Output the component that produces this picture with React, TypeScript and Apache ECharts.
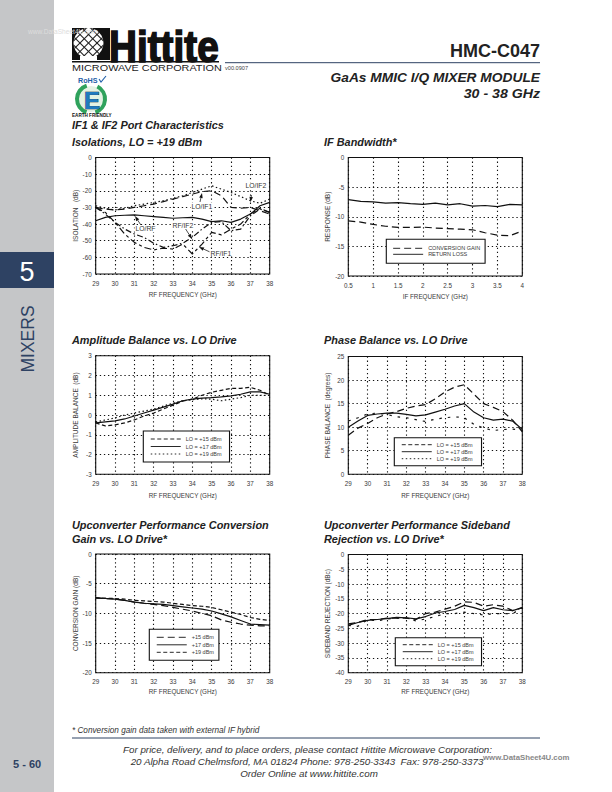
import React, { useEffect, useRef } from "react";
import * as echarts from "echarts";

// ---------- data ----------
const rfGHz = [29, 29.5, 30, 30.5, 31, 31.5, 32, 32.5, 33, 33.5, 34, 34.5, 35, 35.5, 36, 36.5, 37, 37.5, 38];
const ifGHz = [0.5, 0.75, 1, 1.25, 1.5, 1.75, 2, 2.25, 2.5, 2.75, 3, 3.25, 3.5, 3.75, 4];

const isoLoIf2 = [-29, -30.5, -31.5, -30.5, -29, -28, -27, -26, -24.5, -23, -21, -19, -17, -19, -21, -23.5, -26, -27.5, -25];
const isoLoIf1 = [-30, -31, -31.5, -31, -30, -29, -28, -26.5, -25, -23.5, -22, -20.5, -20, -23, -30, -30.5, -30, -32, -34];
const isoLoRf = [-38, -36, -35, -34.7, -34.5, -35, -35.5, -36, -36.5, -36.2, -36, -37, -38.5, -38, -39, -37, -34, -29, -27];
const isoRfIf2 = [-30, -34, -39, -43, -46, -48, -51.5, -54, -53, -51.5, -48, -43, -39, -38.5, -44, -43, -35, -31, -33];
const isoRfIf1 = [-30, -33, -39, -46, -51, -54, -55.5, -54.5, -55, -52, -58, -52, -45, -46.5, -43, -40, -34, -30.5, -33];

const bwConvGain = [-10.7, -10.9, -11.3, -11.6, -11.8, -11.8, -11.75, -11.9, -12, -12.1, -12.2, -12.7, -13.1, -13.2, -12.4];
const bwReturnLoss = [-7.1, -7.4, -7.5, -7.7, -7.6, -7.8, -7.9, -7.7, -8, -7.8, -8.2, -8.1, -8.3, -7.9, -8];

const ampLo15 = [-0.4, -0.55, -0.5, -0.4, -0.25, -0.05, 0.1, 0.3, 0.5, 0.7, 0.8, 1, 1.15, 1.25, 1.35, 1.35, 1.4, 1.25, 1];
const ampLo17 = [-0.4, -0.35, -0.3, -0.2, -0.05, 0.1, 0.25, 0.4, 0.55, 0.72, 0.8, 0.85, 0.88, 0.92, 0.97, 1.05, 1.17, 1.17, 1.05];
const ampLo19 = [-0.35, -0.25, -0.15, 0, 0.1, 0.2, 0.3, 0.45, 0.6, 0.72, 0.78, 0.82, 0.8, 0.72, 0.8, 0.88, 1, 1, 1];

const phaseLo15 = [8.3, 9.8, 10.8, 12, 12.8, 13.3, 14, 14.5, 14.8, 16, 17.5, 18.5, 19, 17, 15, 14.2, 13.3, 11.5, 9];
const phaseLo17 = [10, 11.3, 12.5, 12.8, 13, 13, 12.7, 12.4, 12.6, 13.2, 13.8, 14.5, 15, 13.2, 12, 11.5, 11.7, 11.3, 9.5];
const phaseLo19 = [11.3, 12, 12.8, 13, 12.7, 12.2, 12, 11.6, 11.2, 11.7, 12, 12.2, 12, 10.6, 9.8, 9.3, 9.5, 9.6, 9.3];

const gainLo15 = [-7.4, -7.5, -7.6, -7.8, -8.1, -8.3, -8.5, -8.7, -9, -9.3, -9.6, -10, -10.4, -11.1, -11.5, -11.8, -12, -12.1, -12.1];
const gainLo17 = [-7.4, -7.5, -7.6, -7.8, -8.1, -8.3, -8.4, -8.5, -8.7, -8.9, -9.1, -9.3, -9.6, -10.1, -10.6, -11.2, -11.8, -11.9, -12];
const gainLo19 = [-7.4, -7.45, -7.5, -7.6, -7.8, -7.9, -8, -8.1, -8.3, -8.5, -8.7, -8.8, -9, -9.4, -9.8, -10.2, -10.7, -11, -11.2];

const sbLo15 = [-23.5, -23, -22, -22, -21.5, -21.5, -21.5, -22, -20, -19.5, -18.5, -17.5, -16, -16.2, -17.5, -17, -17.5, -19, -18];
const sbLo17 = [-24, -23, -22.3, -22, -21.7, -21.3, -21.4, -21.8, -21, -19.8, -19.3, -18.6, -17.2, -18, -19, -18, -18.7, -19, -18];
const sbLo19 = [-24, -24.3, -22, -22.5, -21.8, -21.5, -21.5, -22.5, -21.8, -21, -20, -20, -19.5, -20, -20.5, -20, -20, -20, -18];

const FONT = "'Liberation Sans', Arial, sans-serif";
const NAVY = "#2e4263";
const INK = "#3a3a3a";

const solid = "solid";
const longDash = [7, 4];
const dash = [4, 2.5];
const dashDot = [6, 2.5, 1.5, 2.5];
const dotted = [1.5, 2.5];

const pairs = (xs: number[], ys: number[]) => xs.map((x, i) => [x, ys[i]]);

const panels = [
  { left: 95.7, top: 157.5, bottom: 274, nameGap: 17, xMin: 29, xMax: 38, xInt: 1, yMin: -70, yMax: 0, yInt: 10, yName: "ISOLATION   (dB)", xName: "RF FREQUENCY (GHz)" },
  { left: 348.3, top: 157.5, bottom: 276, nameGap: 17, xMin: 0.5, xMax: 4, xInt: 0.5, yMin: -20, yMax: 0, yInt: 5, yName: "RESPONSE (dB)", xName: "IF FREQUENCY (GHz)" },
  { left: 95.7, top: 355.7, bottom: 474.3, nameGap: 17.7, xMin: 29, xMax: 38, xInt: 1, yMin: -3, yMax: 3, yInt: 1, yName: "AMPLITUDE BALANCE  (dB)", xName: "RF FREQUENCY (GHz)" },
  { left: 348.3, top: 356.5, bottom: 474.3, nameGap: 17.7, xMin: 29, xMax: 38, xInt: 1, yMin: 0, yMax: 25, yInt: 5, yName: "PHASE BALANCE  (degrees)", xName: "RF FREQUENCY (GHz)" },
  { left: 95.7, top: 554, bottom: 672.7, nameGap: 16, xMin: 29, xMax: 38, xInt: 1, yMin: -20, yMax: 0, yInt: 5, yName: "CONVERSION GAIN (dB)", xName: "RF FREQUENCY (GHz)" },
  { left: 348.3, top: 554.5, bottom: 672.7, nameGap: 16, xMin: 29, xMax: 38, xInt: 1, yMin: -40, yMax: 0, yInt: 5, yName: "SIDEBAND REJECTION (dBc)", xName: "RF FREQUENCY (GHz)" },
];
const PLOT_W = 174;

const seriesDefs: [number, string, number[], number[], any][] = [
  [0, "LO/IF2", rfGHz, isoLoIf2, dotted],
  [0, "LO/IF1", rfGHz, isoLoIf1, longDash],
  [0, "LO/RF", rfGHz, isoLoRf, solid],
  [0, "RF/IF2", rfGHz, isoRfIf2, dashDot],
  [0, "RF/IF1", rfGHz, isoRfIf1, [7, 3, 3, 3]],
  [1, "CONVERSION GAIN", ifGHz, bwConvGain, longDash],
  [1, "RETURN LOSS", ifGHz, bwReturnLoss, solid],
  [2, "LO = +15 dBm", rfGHz, ampLo15, dash],
  [2, "LO = +17 dBm", rfGHz, ampLo17, solid],
  [2, "LO = +19 dBm", rfGHz, ampLo19, dotted],
  [3, "LO = +15 dBm", rfGHz, phaseLo15, longDash],
  [3, "LO = +17 dBm", rfGHz, phaseLo17, solid],
  [3, "LO = +19 dBm", rfGHz, phaseLo19, [2.5, 6]],
  [4, "+15 dBm", rfGHz, gainLo15, longDash],
  [4, "+17 dBm", rfGHz, gainLo17, solid],
  [4, "+19 dBm", rfGHz, gainLo19, dash],
  [5, "LO = +15 dBm", rfGHz, sbLo15, longDash],
  [5, "LO = +17 dBm", rfGHz, sbLo17, solid],
  [5, "LO = +19 dBm", rfGHz, sbLo19, [2.5, 6]],
];

const legendDefs: { names: string[]; left: number; top: number; pad: number[]; gap: number }[] = [
  { names: ["CONVERSION GAIN", "RETURN LOSS"], left: 386.3, top: 239.3, pad: [6, 5, 6, 6.4], gap: 0 },
  { names: ["LO = +15 dBm", "LO = +17 dBm", "LO = +19 dBm"], left: 143.3, top: 431, pad: [5, 8, 5, 7], gap: 1.5 },
  { names: ["LO = +15 dBm", "LO = +17 dBm", "LO = +19 dBm"], left: 394.3, top: 437.7, pad: [4, 9, 4, 7], gap: 1 },
  { names: ["+15 dBm", "+17 dBm", "+19 dBm"], left: 149.3, top: 629.3, pad: [5, 5, 5, 7], gap: 1.5 },
  { names: ["LO = +15 dBm", "LO = +17 dBm", "LO = +19 dBm"], left: 395.3, top: 637.7, pad: [4, 8, 4, 7], gap: 1 },
];

const txt = (text: string, x: number, y: number, fontSize: number, opt: any = {}) => ({
  type: "text",
  x,
  y,
  silent: true,
  style: {
    text,
    x: 0,
    y: 0,
    fontSize,
    fontFamily: FONT,
    fill: opt.fill ?? "#222",
    fontWeight: opt.weight ?? "normal",
    fontStyle: opt.style ?? "normal",
    align: opt.align ?? "left",
    verticalAlign: "middle",
    opacity: opt.opacity ?? 1,
    stroke: opt.stroke,
    lineWidth: opt.lineWidth,
    backgroundColor: opt.bg,
    padding: opt.bg ? [0, 1] : undefined,
  },
  rotation: opt.rotation ?? 0,
  scaleX: opt.scaleX ?? 1,
  scaleY: opt.scaleY ?? 1,
  z: 50,
});

const head = (text: string, x: number, y: number) =>
  txt(text, x, y, 10.9, { weight: "bold", style: "italic", fill: "#222" });

const tag = (text: string, x: number, y: number) => txt(text, x, y, 6.8, { fill: "#333", bg: "#fff" });

const arrow = (x1: number, y1: number, x2: number, y2: number) => {
  const a = Math.atan2(y2 - y1, x2 - x1);
  const L = 5;
  const W = 1.8;
  const bx = x2 - L * Math.cos(a);
  const by = y2 - L * Math.sin(a);
  return [
    { type: "line", z: 40, silent: true, shape: { x1, y1, x2: bx, y2: by }, style: { stroke: "#222", lineWidth: 0.8 } },
    {
      type: "polygon",
      z: 40,
      silent: true,
      shape: {
        points: [
          [x2, y2],
          [bx - W * Math.sin(a), by + W * Math.cos(a)],
          [bx + W * Math.sin(a), by - W * Math.cos(a)],
        ],
      },
      style: { fill: "#111" },
    },
  ];
};

const rect = (x: number, y: number, width: number, height: number, fill: string, z = 1) => ({
  type: "rect",
  silent: true,
  z,
  shape: { x, y, width, height },
  style: { fill },
});

// decorative lattice of the logo globe
const logoLattice = () => {
  const out: any[] = [];
  const cx = 88.5;
  const cy = 43;
  const r = 15;
  const k = Math.SQRT1_2;
  [-12, -6, 0, 6, 12].forEach((d) => {
    const h = Math.sqrt(r * r - d * d);
    [1, -1].forEach((s) => {
      const nx = k * s;
      const ny = k;
      const tx = -ny;
      const ty = nx;
      out.push({
        type: "line",
        silent: true,
        z: 12,
        shape: {
          x1: cx + nx * d + tx * h,
          y1: cy + ny * d + ty * h,
          x2: cx + nx * d - tx * h,
          y2: cy + ny * d - ty * h,
        },
        style: { stroke: "#222", lineWidth: 1.1 },
      });
    });
  });
  return out;
};

const graphics: any[] = [
  // side strip
  rect(0, 0, 54, 792, "#c5c6c8"),
  rect(0, 252, 54, 36, NAVY, 2),
  txt("5", 27, 271.5, 27, { fill: "#fff", align: "center" }),
  txt("MIXERS", 28, 339, 17.5, { fill: NAVY, align: "center", rotation: Math.PI / 2 }),
  txt("5 - 60", 13, 764, 11, { fill: NAVY, weight: "bold" }),
  // logo
  rect(72, 28, 38, 32, "#111", 10),
  { type: "circle", silent: true, z: 11, shape: { cx: 88.5, cy: 43, r: 15 }, style: { fill: "#fff" } },
  ...logoLattice(),
  rect(80, 56, 17, 4, "#fff", 13),
  txt("Hittite", 109, 46, 44, { weight: "bold", fill: "#111", stroke: "#111", lineWidth: 1.6, scaleX: 0.88, scaleY: 1.02 }),
  rect(72, 61, 147, 1.6, "#111", 10),
  txt("MICROWAVE CORPORATION", 72, 67.3, 9.6, { fill: "#222", scaleX: 1.13 }),
  txt("v00.0907", 225, 67.5, 5.6, { fill: "#444" }),
  { type: "line", silent: true, z: 5, shape: { x1: 225, y1: 62.7, x2: 540, y2: 62.7 }, style: { stroke: NAVY, lineWidth: 1 } },
  txt("www.DataSheet4U.com", 28, 31, 6.6, { fill: "#ddd" }),
  // RoHS mark
  txt("RoHS", 78, 80.3, 7.2, { fill: "#1f5ea8", weight: "bold" }),
  { type: "polyline", silent: true, z: 12, shape: { points: [[99, 79], [101, 82], [106, 76]] }, style: { stroke: "#1f5ea8", lineWidth: 1.1, fill: "none" } },
  { type: "circle", silent: true, z: 10, shape: { cx: 91, cy: 99, r: 13 }, style: { fill: "#e4f2e4" } },
  { type: "arc", silent: true, z: 11, shape: { cx: 91, cy: 99, r: 14, startAngle: 1.9, endAngle: 4.4 }, style: { stroke: "#2fa25c", lineWidth: 4, fill: "none" } },
  { type: "arc", silent: true, z: 11, shape: { cx: 91, cy: 99, r: 14, startAngle: -1.1, endAngle: 1.25 }, style: { stroke: "#2fa25c", lineWidth: 4, fill: "none" } },
  txt("E", 92, 100.5, 24, { weight: "bold", fill: "#1f7ac0", stroke: "#111", lineWidth: 0.7, align: "center" }),
  txt("EARTH FRIENDLY", 72, 115, 4.6, { weight: "bold", fill: "#111" }),
  // header
  txt("HMC-C047", 540, 51, 18, { weight: "bold", align: "right", fill: "#222" }),
  txt("GaAs MMIC I/Q MIXER MODULE", 540, 77.3, 13, { weight: "bold", style: "italic", align: "right", fill: "#222", scaleX: 1.06 }),
  txt("30 - 38 GHz", 540, 94, 13, { weight: "bold", style: "italic", align: "right", fill: "#222", scaleX: 1.09 }),
  // chart headings
  head("IF1 & IF2 Port Characteristics", 72, 125),
  head("Isolations, LO = +19 dBm", 72, 142),
  head("IF Bandwidth*", 324, 142),
  head("Amplitude Balance vs. LO Drive", 72, 340),
  head("Phase Balance vs. LO Drive", 324, 340),
  head("Upconverter Performance Conversion", 72, 525),
  head("Gain vs. LO Drive*", 72, 539),
  head("Upconverter Performance Sideband", 324, 525),
  head("Rejection vs. LO Drive*", 324, 539),
  // isolation annotations
  tag("LO/IF2", 244.5, 185.7),
  tag("LO/IF1", 190.5, 206),
  tag("LO/RF", 134.5, 228.5),
  tag("RF/IF2", 171.5, 225.5),
  tag("RF/IF1", 209.5, 253),
  ...arrow(251.5, 195, 250.5, 202),
  ...arrow(200, 202, 202, 193),
  ...arrow(141.5, 226, 135, 216),
  ...arrow(185, 228, 192, 239),
  ...arrow(210, 252, 199, 247),
  // footer
  txt("* Conversion gain data taken with external IF hybrid", 72, 730.5, 8.2, { style: "italic", fill: "#333" }),
  { type: "line", silent: true, z: 5, shape: { x1: 72, y1: 738, x2: 540, y2: 738 }, style: { stroke: NAVY, lineWidth: 1 } },
  txt("For price, delivery, and to place orders, please contact Hittite Microwave Corporation:", 307.5, 749.3, 9.8, { style: "italic", align: "center", fill: "#333" }),
  txt("20 Alpha Road Chelmsford, MA 01824 Phone: 978-250-3343  Fax: 978-250-3373", 307, 761, 9.8, { style: "italic", align: "center", fill: "#333" }),
  txt("Order Online at www.hittite.com", 309, 773.3, 9.8, { style: "italic", align: "center", fill: "#333" }),
  txt("www.DataSheet4U.com", 483, 757, 7.8, { fill: "#888", weight: "bold" }),
];

export default function App() {
  const ref = useRef<HTMLDivElement>(null);
  useEffect(() => {
    const chart = echarts.init(ref.current!, undefined, { renderer: "svg" });
    chart.setOption({
      animation: false,
      backgroundColor: "#fff",
      textStyle: { fontFamily: FONT },
      grid: panels.map((p) => ({
        left: p.left,
        top: p.top,
        width: PLOT_W,
        height: p.bottom - p.top,
        show: true,
        borderColor: "#111",
        borderWidth: 1.1,
        backgroundColor: "transparent",
      })),
      xAxis: panels.map((p, i) => ({
        type: "value",
        gridIndex: i,
        min: p.xMin,
        max: p.xMax,
        interval: p.xInt,
        name: p.xName,
        nameLocation: "middle",
        nameGap: p.nameGap,
        nameTextStyle: { fontSize: 6.3, color: INK, fontFamily: FONT },
        axisLine: { show: false },
        axisTick: { show: false },
        splitLine: { show: true, lineStyle: { color: "#111", width: 1.1, type: [1.3, 2.8] } },
        axisLabel: { fontSize: 6.3, color: INK, margin: 6, fontFamily: FONT },
      })),
      yAxis: panels.map((p, i) => ({
        type: "value",
        gridIndex: i,
        min: p.yMin,
        max: p.yMax,
        interval: p.yInt,
        name: p.yName,
        nameLocation: "middle",
        nameGap: 17,
        nameRotate: 90,
        nameTextStyle: { fontSize: 6.5, color: INK, fontFamily: FONT },
        axisLine: { show: false },
        axisTick: { show: false },
        splitLine: { show: true, lineStyle: { color: "#111", width: 1.1, type: [1.3, 2.8] } },
        axisLabel: { fontSize: 6.3, color: INK, margin: 4, fontFamily: FONT },
      })),
      legend: legendDefs.map((l) => ({
        show: true,
        orient: "vertical",
        left: l.left,
        top: l.top,
        padding: l.pad,
        itemWidth: 30,
        itemHeight: 5,
        itemGap: l.gap,
        selectedMode: false,
        backgroundColor: "#fff",
        borderColor: "#111",
        borderWidth: 1.1,
        z: 30,
        itemStyle: { opacity: 0 },
        lineStyle: { width: 0.9 },
        textStyle: { fontSize: 5.5, color: INK, fontFamily: FONT },
        data: l.names,
      })),
      series: seriesDefs.map(([g, name, xs, ys, type]) => ({
        type: "line",
        name,
        xAxisIndex: g,
        yAxisIndex: g,
        data: pairs(xs, ys),
        showSymbol: false,
        symbol: "none",
        smooth: false,
        z: 5,
        lineStyle: { color: "#111", width: 1.2, type },
        itemStyle: { color: "#111" },
      })),
      graphic: { elements: graphics },
    });
    return () => chart.dispose();
  }, []);
  return <div ref={ref} style={{ position: "absolute", left: 0, top: 0, width: 612, height: 792 }} />;
}
